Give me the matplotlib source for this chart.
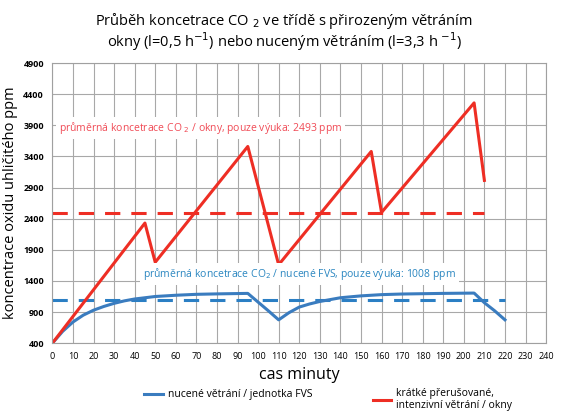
import matplotlib.pyplot as plt
from matplotlib.lines import Line2D

plt.rcParams['font.family'] = ['Open Sans', 'DejaVu Sans']

# data
okny_t = [0, 45, 50, 95, 110, 155, 160, 205, 210]
okny_ppm = [400, 2330, 1700, 3560, 1660, 3480, 2500, 4260, 3015]

fvs_t = [0, 5, 10, 15, 20, 25, 30, 35, 40, 50, 60, 70, 80, 95,
         100, 105, 110, 115, 120, 125, 130, 140, 150, 160, 170, 180, 190, 205,
         210, 215, 220]
fvs_ppm = [400, 590, 740, 850, 930, 990, 1040, 1080, 1110, 1150, 1170, 1185, 1192, 1200,
           1060, 920, 775, 890, 980, 1030, 1070, 1130, 1160, 1180, 1190, 1195, 1200, 1205,
           1050, 920, 775]

prumer_okny = 2493
prumer_fvs = 1090
x_ticks = list(range(0, 241, 10))
y_ticks = list(range(400, 4901, 500))

cervena = '#ee2e24'
modra = '#2b7fc4'

fig = plt.figure(figsize=(5.63, 4.12), dpi=100)
ax = fig.add_axes([0.093, 0.167, 0.877, 0.68])

ax.plot([0, 210], [prumer_okny, prumer_okny], color=cervena, lw=2.2, dashes=(5, 3.6))
ax.plot([0, 220], [prumer_fvs, prumer_fvs], color=modra, lw=2.2, dashes=(5, 3.6))
ax.plot(fvs_t, fvs_ppm, color='#3a7cbf', lw=2.2)
ax.plot(okny_t, okny_ppm, color=cervena, lw=2.2)

ax.set_xlim(0, 240)
ax.set_ylim(400, 4900)
ax.set_xticks(x_ticks)
ax.set_yticks(y_ticks)
ax.tick_params(length=0, labelsize=6.5, pad=6)
for lbl in ax.get_yticklabels():
    lbl.set_fontweight('bold')
ax.grid(color='#a8a8a8', lw=0.8)
ax.set_axisbelow(True)
for s in ax.spines.values():
    s.set_color('#a0a0a0')
    s.set_linewidth(0.8)

ax.set_xlabel('cas minuty', fontsize=11.5, labelpad=5)
ax.set_ylabel('koncentrace oxidu uhličitého ppm', fontsize=10.5, labelpad=4)

ax.text(3, 3860, 'průměrná koncetrace CO $_2$ / okny, pouze výuka: 2493 ppm',
        color='#f04a55', fontsize=7.5, va='center', ha='left',
        bbox=dict(facecolor='white', edgecolor='none', pad=2))
ax.text(44, 1510, 'průměrná koncetrace CO$_2$ / nucené FVS, pouze výuka: 1008 ppm',
        color='#2a86c0', fontsize=7.5, va='center', ha='left',
        bbox=dict(facecolor='white', edgecolor='none', pad=2))

# titulek ve dvou radcich
fig.text(0.505, 0.94, 'Průběh koncetrace CO $_2$ ve třídě s přirozeným větráním',
         ha='center', va='baseline', fontsize=10.5)
fig.text(0.505, 0.887, 'okny (l=0,5 h$^{-1}$) nebo nuceným větráním (l=3,3 h $^{-1}$)',
         ha='center', va='baseline', fontsize=10.5)

h1 = Line2D([], [], color='#3a7cbf', lw=2.2)
h2 = Line2D([], [], color=cervena, lw=2.2)
fig.legend([h1], ['nucené větrání / jednotka FVS'], loc='center left',
           bbox_to_anchor=(0.24, 0.042), frameon=False, fontsize=7.5,
           handlelength=1.8, handletextpad=0.5)
fig.legend([h2], ['krátké přerušované,\nintenzivní větrání / okny'], loc='center left',
           bbox_to_anchor=(0.645, 0.03), frameon=False, fontsize=7.5,
           handlelength=1.8, handletextpad=0.5)

fig.savefig('out.png', dpi=100)
